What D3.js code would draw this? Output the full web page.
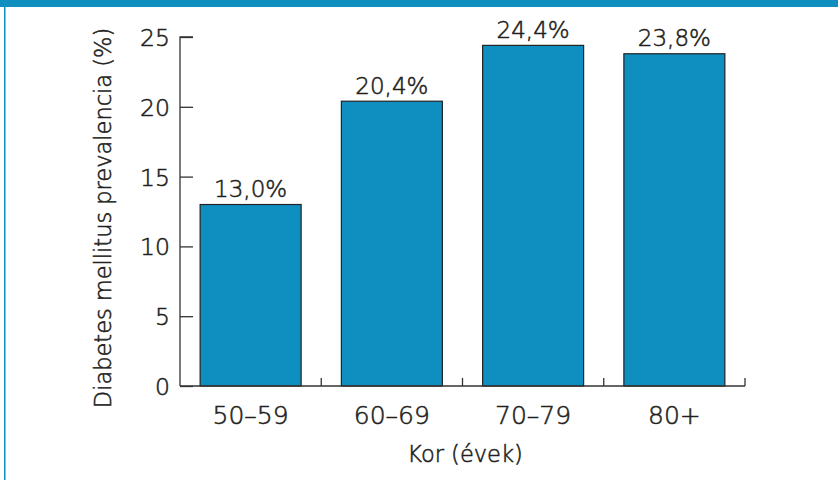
<!DOCTYPE html>
<html>
<head>
<meta charset="utf-8">
<script src="https://cdn.jsdelivr.net/npm/d3@7"></script>
<style>
  html, body { margin: 0; padding: 0; background: #fff; }
  svg text { font-family: "DejaVu Sans", sans-serif; font-weight: 200; fill: #231f20; stroke: #231f20; stroke-width: 0.55px; }
</style>
</head>
<body>
<svg id="chart" width="838" height="480"></svg>
<script>
// Diabetes prevalence by age group
const categories = ["50–59", "60–69", "70–79", "80+"];
const prevalence = [13.0, 20.4, 24.4, 23.8];
const yTicks = [0, 5, 10, 15, 20, 25];
const yTitle = "Diabetes mellitus prevalencia (%)";
const xTitle = "Kor (évek)";

const svg = d3.select("#chart");
const W = 838, H = 480;
const blue = "#0e8fc0";

// frame: top band and thin left rule
svg.append("rect").attr("x", 0).attr("y", 0).attr("width", W).attr("height", 7).attr("fill", blue);
svg.append("rect").attr("x", 4).attr("y", 0).attr("width", 1.5).attr("height", H).attr("fill", blue);

const plot = { left: 180, right: 745, top: 37, bottom: 386 };

const x = d3.scaleBand().domain(categories).range([plot.left, plot.right]).paddingInner(0.285).paddingOuter(0.1425);
const y = d3.scaleLinear().domain([0, 25]).range([plot.bottom, plot.top]);

const fmt = v => d3.format(".1f")(v).replace(".", ",") + "%";

// bars
svg.append("g").selectAll("rect").data(prevalence).join("rect")
  .attr("x", (d, i) => x(categories[i]))
  .attr("y", d => y(d))
  .attr("width", x.bandwidth())
  .attr("height", d => y(0) - y(d))
  .attr("fill", blue)
  .attr("stroke", "#222")
  .attr("stroke-width", 1.2);

// value labels
svg.append("g").selectAll("text").data(prevalence).join("text")
  .attr("x", (d, i) => x(categories[i]) + x.bandwidth() / 2)
  .attr("y", d => y(d) - 7.5)
  .attr("text-anchor", "middle")
  .attr("font-size", 23)
  .text(fmt);

// y axis: ticks point into the plot
const yAxis = d3.axisRight(y).tickValues(yTicks).tickSize(13).tickFormat(d3.format("d"));
const gy = svg.append("g").attr("transform", `translate(${plot.left},0)`).call(yAxis);
gy.select(".domain").attr("stroke", "#333").attr("stroke-width", 1.3).attr("d", `M13,${plot.top}H0V${plot.bottom}`);
gy.selectAll(".tick line").attr("stroke", "#333").attr("stroke-width", 1.3);
gy.selectAll(".tick text").attr("x", -10).attr("text-anchor", "end").attr("font-size", 23.5)
  .attr("dy", "0.36em").attr("font-family", null);

// x axis: boundary ticks point upward
const step = x.step();
const boundaries = d3.range(1, categories.length + 1).map(i => plot.left + x.paddingOuter() * step - x.paddingInner() * step / 2 + i * step);
const gx = svg.append("g");
gx.append("line").attr("x1", plot.left).attr("x2", plot.right).attr("y1", plot.bottom).attr("y2", plot.bottom)
  .attr("stroke", "#333").attr("stroke-width", 1.3);
gx.selectAll("line.b").data(boundaries).join("line").attr("class", "b")
  .attr("x1", d => d).attr("x2", d => d).attr("y1", plot.bottom).attr("y2", plot.bottom - 8)
  .attr("stroke", "#333").attr("stroke-width", 1.3);
gx.selectAll("text").data(categories).join("text")
  .attr("x", d => x(d) + x.bandwidth() / 2)
  .attr("y", 424)
  .attr("text-anchor", "middle")
  .attr("font-size", 25)
  .text(d => d);

// axis titles
svg.append("text").attr("x", 465).attr("y", 462)
  .attr("text-anchor", "middle").attr("font-size", 22.5).text(xTitle);
svg.append("text").attr("transform", `translate(111,218) rotate(-90)`)
  .attr("text-anchor", "middle").attr("font-size", 22.5).text(yTitle);
</script>
</body>
</html>
